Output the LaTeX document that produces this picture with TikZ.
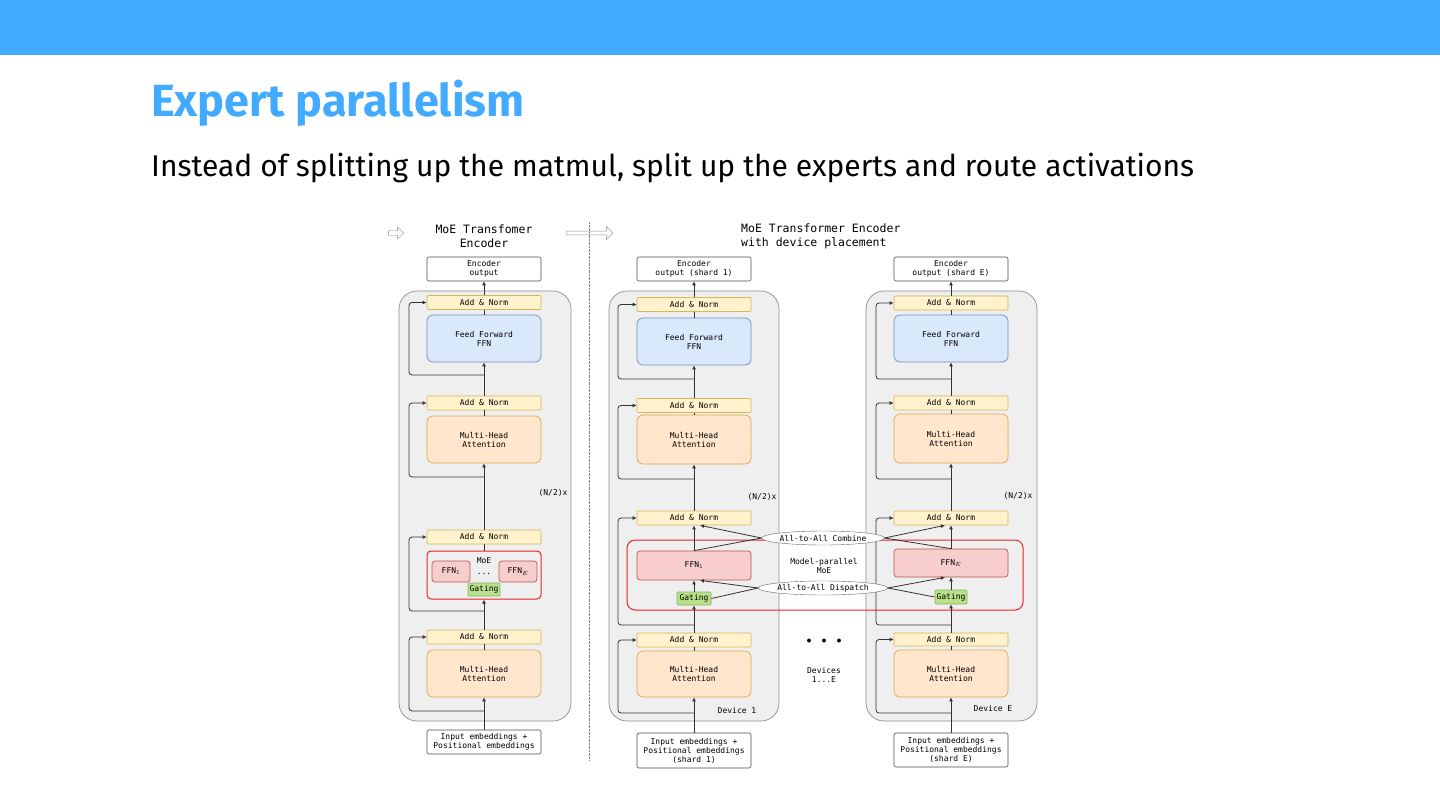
\documentclass[tikz,border=0pt]{standalone}
\usepackage{fontspec}
\setmainfont{Fira Sans}
\setmonofont{DejaVu Sans Mono}
\usetikzlibrary{shapes.geometric,shapes.arrows,arrows.meta}
\definecolor{barblue}{HTML}{42ABFF}
\definecolor{panelgray}{HTML}{EFEFEF}
\definecolor{anfill}{HTML}{FFF2CC}
\definecolor{andraw}{HTML}{D6B656}
\definecolor{fffill}{HTML}{DAE8FC}
\definecolor{ffdraw}{HTML}{6C8EBF}
\definecolor{mhfill}{HTML}{FFE6CC}
\definecolor{mhdraw}{HTML}{E0A64A}
\definecolor{exfill}{HTML}{F8CECC}
\definecolor{exdraw}{HTML}{B85450}
\definecolor{gtfill}{HTML}{B9E08A}
\definecolor{gtdraw}{HTML}{82B366}
\definecolor{moered}{HTML}{E8232A}
\tikzset{
  lbl/.style={font=\ttfamily\fontsize{8}{9}\selectfont, align=center, inner sep=0pt},
  addnorm/.style={lbl, draw=andraw, fill=anfill, line width=0.7pt, minimum width=114pt, minimum height=14pt, rounded corners=1pt},
  ffbox/.style={lbl, draw=ffdraw, fill=fffill, line width=0.7pt, minimum width=114pt, minimum height=47pt, rounded corners=6pt},
  mhbox/.style={lbl, draw=mhdraw, fill=mhfill, line width=0.7pt, minimum width=114pt, minimum height=47pt, rounded corners=6pt},
  expert/.style={lbl, draw=exdraw, fill=exfill, line width=0.7pt, rounded corners=3pt},
  gating/.style={lbl, draw=gtdraw, fill=gtfill, line width=0.7pt, minimum width=32pt, minimum height=13pt, rounded corners=1pt},
  iobox/.style={lbl, draw=black!70, fill=white, line width=0.6pt, minimum width=114pt, rounded corners=2pt},
  panel/.style={draw=black!45, line width=0.7pt, fill=panelgray, rounded corners=18pt},
  flow/.style={draw=black!80, line width=0.8pt, -{Latex[length=4pt,width=4pt]}},
  plain/.style={draw=black!80, line width=0.8pt},
  res/.style={flow, rounded corners=3pt},
  a2a/.style={lbl, ellipse, draw=black!60, fill=white, minimum width=116pt, minimum height=14pt}
}
\begin{document}
\begin{tikzpicture}[x=1pt,y=-1pt]
\useasboundingbox (0,0) rectangle (1440,811);
% header
\fill[barblue] (0,0) rectangle (1440,55);
\node[anchor=base west, inner sep=0pt, text=barblue, font=\fontsize{45}{50}\selectfont\bfseries] (title) at (151,116) {Expert parallelism};
\node[anchor=base west, inner sep=0pt, font=\fontsize{30}{34}\selectfont] (subtitle) at (151,176) {Instead of splitting up the matmul, split up the experts and route activations};

% captions
\node[single arrow, draw=black!45, fill=white, minimum height=15pt, minimum width=12pt, single arrow head extend=2pt, inner sep=1pt] (harr1) at (395,233) {};
\node[single arrow, draw=black!45, fill=white, minimum height=46pt, minimum width=13pt, single arrow head extend=3pt, inner sep=1pt] (harr2) at (589,233) {};
\node[lbl, font=\ttfamily\fontsize{11.5}{14}\selectfont] (cap1) at (484,236) {MoE Transfomer\\Encoder};
\node[lbl, anchor=west, align=left, font=\ttfamily\fontsize{11.5}{14}\selectfont] (cap2) at (741,236) {MoE Transformer Encoder\\with device placement};
\draw[black!50, densely dotted] (589,222) -- (589,760);

% panels
\draw[panel] (399,291) rectangle (571,721);
\draw[panel] (609,291) rectangle (779,721);
\draw[panel] (866,291) rectangle (1037,721);

% column 1: MoE encoder
\node[iobox, minimum height=24pt] (out1) at (484,269) {Encoder\\output};
\node[addnorm] (an1a) at (484,302.5) {Add \& Norm};
\node[ffbox] (ff1) at (484,338.5) {Feed Forward\\FFN};
\node[addnorm] (an1b) at (484,403) {Add \& Norm};
\node[mhbox] (mha1a) at (484,439.5) {Multi-Head\\Attention};
\node[addnorm] (an1c) at (484,537) {Add \& Norm};
\node[draw=moered, line width=1pt, rounded corners=4pt, minimum width=114pt, minimum height=48pt, inner sep=0pt] (moe1) at (484,575) {};
\node[lbl] (moelbl) at (484,561) {MoE};
\node[lbl] (dots1) at (484,574) {...};
\node[expert, minimum width=38pt, minimum height=21pt] (ffn1a) at (451,571.5) {FFN$_1$};
\node[expert, minimum width=38pt, minimum height=21pt] (ffn1e) at (518,571.5) {FFN$_E$};
\node[gating] (gate1) at (484,589.5) {Gating};
\node[addnorm] (an1d) at (484,637) {Add \& Norm};
\node[mhbox] (mha1b) at (484,673.5) {Multi-Head\\Attention};
\node[iobox, minimum height=24pt] (in1) at (484,742) {Input embeddings +\\Positional embeddings};
\node[lbl] (rep1) at (553,493) {(N/2)x};

\draw[flow] (in1.north) -- (mha1b.south);
\draw[plain] (mha1b.north) -- (an1d.south);
\draw[flow] (an1d.north) -- (moe1.south);
\draw[plain] (moe1.north) -- (an1c.south);
\draw[flow] (an1c.north) -- (mha1a.south);
\draw[plain] (mha1a.north) -- (an1b.south);
\draw[flow] (an1b.north) -- (ff1.south);
\draw[plain] (ff1.north) -- (an1a.south);
\draw[flow] (an1a.north) -- (out1.south);
\draw[res] (in1.north |- 0,711) -| (409,637) -- (an1d.west);
\draw[res] (in1.north |- 0,611) -| (409,537) -- (an1c.west);
\draw[res] (in1.north |- 0,477) -| (409,403) -- (an1b.west);
\draw[res] (in1.north |- 0,375) -| (409,302.5) -- (an1a.west);

% column 2: device 1
\node[iobox, minimum height=24pt] (out2) at (694,269) {Encoder\\output (shard 1)};
\node[addnorm] (an2a) at (694,304.5) {Add \& Norm};
\node[ffbox] (ff2) at (694,341.5) {Feed Forward\\FFN};
\node[addnorm] (an2b) at (694,405.5) {Add \& Norm};
\node[mhbox, minimum height=49pt] (mha2a) at (694,439.5) {Multi-Head\\Attention};
\node[addnorm] (an2c) at (694,518) {Add \& Norm};
\node[addnorm] (an2d) at (694,640) {Add \& Norm};
\node[mhbox, minimum height=46pt] (mha2b) at (694,674) {Multi-Head\\Attention};
\node[iobox, minimum height=35pt] (in2) at (694,750.5) {Input embeddings +\\Positional embeddings\\(shard 1)};
\node[lbl] (rep2) at (762,497) {(N/2)x};
\node[lbl] (dev1) at (737,711) {Device 1};

% column 3: device E
\node[iobox, minimum height=24pt] (out3) at (951,269) {Encoder\\output (shard E)};
\node[addnorm] (an3a) at (951,303) {Add \& Norm};
\node[ffbox] (ff3) at (951,338.5) {Feed Forward\\FFN};
\node[addnorm] (an3b) at (951,403) {Add \& Norm};
\node[mhbox, minimum height=49pt] (mha3a) at (951,438.5) {Multi-Head\\Attention};
\node[addnorm] (an3c) at (951,518) {Add \& Norm};
\node[addnorm, minimum height=13pt] (an3d) at (951,639.5) {Add \& Norm};
\node[mhbox] (mha3b) at (951,673.5) {Multi-Head\\Attention};
\node[iobox, minimum height=34pt] (in3) at (951,750) {Input embeddings +\\Positional embeddings\\(shard E)};
\node[lbl] (rep3) at (1018,496) {(N/2)x};
\node[lbl] (devE) at (993,709) {Device E};

% model-parallel MoE
\draw[moered, line width=1pt, rounded corners=8pt] (627,540) rectangle (1023,610);
\node[expert, minimum width=114pt, minimum height=29pt] (ffn2) at (694,565.5) {FFN$_1$};
\node[expert, minimum width=114pt, minimum height=28pt] (ffn3) at (951,563) {FFN$_E$};
\node[gating, minimum width=34pt] (gate2) at (694,598.5) {Gating};
\node[gating, minimum height=14pt] (gate3) at (951,597) {Gating};
\node[lbl] (mpmoe) at (824,565.5) {Model-parallel\\MoE};

\foreach \c/\x in {2/618,3/876} {
  \draw[flow] (in\c.north) -- (mha\c b.south);
  \draw[plain] (mha\c b.north) -- (an\c d.south);
  \draw[flow] (an\c d.north) -- (gate\c.south);
  \draw[flow] (gate\c.north) -- (ffn\c.south);
  \draw[flow] (ffn\c.north) -- (an\c c.south);
  \draw[flow] (an\c c.north) -- (mha\c a.south);
  \draw[plain] (mha\c a.north) -- (an\c b.south);
  \draw[flow] (an\c b.north) -- (ff\c.south);
  \draw[plain] (ff\c.north) -- (an\c a.south);
  \draw[flow] (an\c a.north) -- (out\c.south);
  \draw[res] (in\c.north |- 0,713) -| (\x,0 |- an\c d.west) -- (an\c d.west);
  \draw[res] (in\c.north |- 0,625) -| (\x,0 |- an\c c.west) -- (an\c c.west);
  \draw[res] (in\c.north |- 0,479) -| (\x,0 |- an\c b.west) -- (an\c b.west);
  \draw[res] (in\c.north |- 0,379) -| (\x,0 |- an\c a.west) -- (an\c a.west);
}

\node[a2a] (comb) at (823,538) {All-to-All Combine};
\node[a2a] (disp) at (823,588) {All-to-All Dispatch};
\draw[plain] (ffn2.north) -- (comb.west);
\draw[plain] (ffn3.north) -- (comb.east);
\draw[flow] (comb.west) -- ([xshift=6pt]an2c.south);
\draw[flow] (comb.east) -- ([xshift=-6pt]an3c.south);
\draw[plain] (gate2.east) -- (disp.west);
\draw[plain] (gate3.west) -- (disp.east);
\draw[flow] (disp.west) -- ([xshift=6pt]ffn2.south);
\draw[flow] (disp.east) -- ([xshift=-6pt]ffn3.south);

\node[lbl, font=\fontsize{10}{12}\selectfont] (devdots) at (824,641) {$\bullet$\quad$\bullet$\quad$\bullet$};
\node[lbl] (devs) at (824,674.5) {Devices\\1...E};
\end{tikzpicture}
\end{document}
